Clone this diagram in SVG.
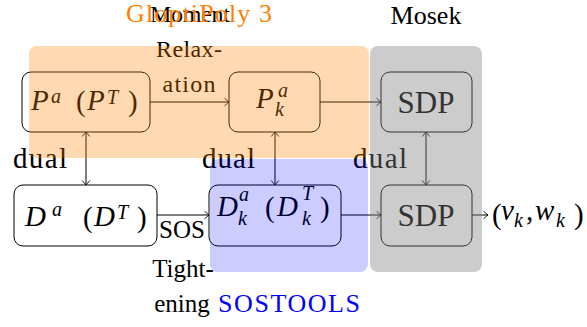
<svg xmlns="http://www.w3.org/2000/svg" width="587" height="327" viewBox="0 0 587 327">
<style>
text{font-family:"Liberation Serif",serif}
.box{fill:#fff;stroke:#000;stroke-width:1}
.m{font-style:italic;font-size:29px;fill:#000}
.s{font-style:italic;font-size:20px;fill:#000}
.r{font-size:29px;fill:#000}
.sdp{font-size:31px;fill:#000;text-anchor:middle}
.lbl{font-size:24px;fill:#000;text-anchor:middle}
.dual{font-size:29px;fill:#000}
.tool{font-size:26px;text-anchor:middle}
.ln{stroke:#000;stroke-width:1;fill:none}
</style>
<defs>
<marker id="ah" markerUnits="userSpaceOnUse" markerWidth="12" markerHeight="12" viewBox="-6 -6 12 12" refX="0" refY="0" orient="auto-start-reverse">
<path d="M-4.5,-3.8 Q-1.2,-1 0,0 Q-1.2,1 -4.5,3.8" fill="none" stroke="#000" stroke-width="0.9"/>
</marker>
</defs>
<rect width="587" height="327" fill="#fff"/>
<g id="node-Pa">
<rect class="box" x="22" y="72" width="128" height="60" rx="9"/>
<text><tspan class="m" x="31" y="110">P</tspan><tspan class="s" x="51" y="103">a</tspan><tspan class="r" x="76" y="111">(</tspan><tspan class="m" x="87" y="110">P</tspan><tspan class="s" x="107" y="104">T</tspan><tspan class="r" x="128" y="111">)</tspan></text>
</g>
<g id="node-Pka">
<rect class="box" x="229" y="72" width="91" height="60" rx="9"/>
<text><tspan class="m" x="256" y="108">P</tspan><tspan class="s" x="278" y="97">a</tspan><tspan class="s" x="275" y="116">k</tspan></text>
</g>
<g id="node-SDP1">
<rect class="box" x="381" y="72" width="91" height="60" rx="9"/>
<text class="sdp" x="426" y="113">SDP</text>
</g>
<g id="node-Da">
<rect class="box" x="14" y="185" width="143" height="61" rx="9"/>
<text><tspan class="m" x="25" y="226">D</tspan><tspan class="s" x="52" y="216">a</tspan><tspan class="r" x="83" y="227">(</tspan><tspan class="m" x="94" y="226">D</tspan><tspan class="s" x="117" y="219">T</tspan><tspan class="r" x="137" y="227">)</tspan></text>
</g>
<g id="node-Dka">
<rect class="box" x="209" y="185" width="132" height="61" rx="9"/>
<text><tspan class="m" x="217" y="216">D</tspan><tspan class="s" x="239" y="201">a</tspan><tspan class="s" x="238" y="225">k</tspan><tspan class="r" x="265" y="217">(</tspan><tspan class="m" x="277" y="216">D</tspan><tspan class="s" x="302" y="200">T</tspan><tspan class="s" x="302" y="225">k</tspan><tspan class="r" x="320" y="217">)</tspan></text>
</g>
<g id="node-SDP2">
<rect class="box" x="381" y="185" width="91" height="61" rx="9"/>
<text class="sdp" x="426" y="226">SDP</text>
</g>
<g id="node-out">
<text><tspan class="r" x="492" y="224">(</tspan><tspan class="m" x="501" y="220">v</tspan><tspan class="s" x="514" y="227">k</tspan><tspan class="r" x="526" y="220">,</tspan><tspan class="m" x="535" y="220">w</tspan><tspan class="s" x="556" y="227">k</tspan><tspan class="r" x="574" y="224">)</tspan></text>
</g>
<g id="connectors">
<line class="ln" x1="150" y1="102" x2="229" y2="102" marker-end="url(#ah)"/>
<line class="ln" x1="320" y1="102" x2="381" y2="102" marker-end="url(#ah)"/>
<line class="ln" x1="157" y1="215" x2="209" y2="215" marker-end="url(#ah)"/>
<line class="ln" x1="341" y1="215" x2="381" y2="215" marker-end="url(#ah)"/>
<line class="ln" x1="472" y1="215" x2="488" y2="215" marker-end="url(#ah)"/>
<line class="ln" x1="86" y1="132" x2="86" y2="185" marker-start="url(#ah)" marker-end="url(#ah)"/>
<line class="ln" x1="275" y1="132" x2="275" y2="185" marker-start="url(#ah)" marker-end="url(#ah)"/>
<line class="ln" x1="426" y1="132" x2="426" y2="185" marker-start="url(#ah)" marker-end="url(#ah)"/>
</g>
<g id="labels">
<text class="lbl" x="190" y="22" textLength="80">Moment</text>
<text class="lbl" x="189" y="57" textLength="66">Relax-</text>
<text class="lbl" x="189" y="92" textLength="53">ation</text>
<text class="lbl" x="182" y="238" style="font-size:25px">SOS</text>
<text class="lbl" x="183" y="277" style="font-size:25px">Tight-</text>
<text class="lbl" x="182" y="312" style="font-size:25px">ening</text>
<text class="dual" x="13" y="168" textLength="54">dual</text>
<text class="dual" x="202" y="168" textLength="53">dual</text>
<text class="dual" x="353" y="168" textLength="54">dual</text>
</g>
<g id="regions">
<rect x="29" y="46" width="340" height="112" rx="8" fill="#ff8000" fill-opacity="0.3"/>
<rect x="210" y="159" width="158" height="113" rx="8" fill="#0000ff" fill-opacity="0.2"/>
<rect x="370" y="46" width="112" height="226" rx="8" fill="#808080" fill-opacity="0.4"/>
</g>
<g id="region-labels">
<text class="tool" x="199" y="22" fill="#ff8000" textLength="146">GloptiPoly 3</text>
<text class="tool" x="289" y="312" fill="#0000ff" textLength="142">SOSTOOLS</text>
<text class="tool" x="426" y="24" fill="#000">Mosek</text>
</g>
</svg>
